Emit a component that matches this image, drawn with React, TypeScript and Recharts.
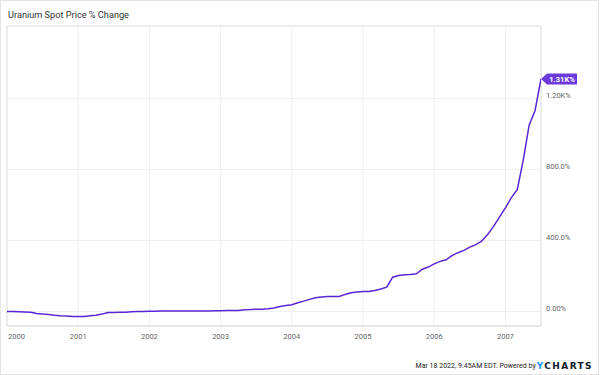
import React from 'react';
import { LineChart, Line, XAxis, YAxis, CartesianGrid, ReferenceArea } from 'recharts';

// monthly % change of the uranium spot price, Jan 2000 .. Jun 2007
const startYear = 2000;
const pctChange = [
  0, -1, -2, -3, -4, -11, -15, -17, -21, -24, -26, -28,
  -28, -28, -24, -21, -15, -6, -6, -4, -4, -2, 0, 0,
  1, 1, 2, 2, 2, 2, 2, 2, 3, 3, 3, 4,
  4, 6, 6, 6, 10, 11, 13, 13, 15, 19, 28, 34,
  38, 49, 58, 68, 77, 81, 84, 84, 84, 96, 105, 109,
  113, 113, 118, 126, 137, 193, 203, 207, 208, 212, 238, 250,
  268, 282, 291, 315, 331, 344, 362, 376, 396, 433, 479, 531,
  583, 641, 686, 851, 1049, 1132, 1310,
];
const yearTicks = [2000, 2001, 2002, 2003, 2004, 2005, 2006, 2007];
const pctTicks = [0, 400, 800, 1200];

const data = pctChange.map((v, i) => ({ t: startYear + i / 12, v }));

const LINE = '#5b25d6';
const FONT = 'Roboto, "Noto Sans", sans-serif';

const fmtPct = (v: number) => {
  if (v === 0) return '0.00%';
  if (Math.abs(v) >= 1000) return (v / 1000).toFixed(2) + 'K%';
  return v.toFixed(1) + '%';
};

const XTick = (props: any) => {
  const { x, payload } = props;
  const first = payload.value === yearTicks[0];
  return (
    <text x={first ? x + 1 : x} y={339} textAnchor={first ? 'start' : 'middle'}
      fontSize={7.5} fill="#666" fontFamily={FONT}>
      {payload.value}
    </text>
  );
};

const YTick = (props: any) => {
  const { y, payload } = props;
  return (
    <text x={546} y={y} textAnchor="start" fontSize={7.5} fill="#666" fontFamily={FONT}>
      {fmtPct(payload.value)}
    </text>
  );
};

const EndLabel = (props: any) => {
  const { x, y, index, value } = props;
  if (index !== pctChange.length - 1) return null;
  return (
    <g>
      <polygon
        points={`${x},${y} ${x + 6},${y - 5.5} ${x + 36},${y - 5.5} ${x + 36},${y + 5.5} ${x + 6},${y + 5.5}`}
        fill="#6c3bdc"
      />
      <text x={x + 21} y={y + 2.7} textAnchor="middle" fontSize={7.5} fontWeight="bold"
        fill="#fff" fontFamily={FONT}>
        {fmtPct(value)}
      </text>
    </g>
  );
};

const App: React.FC = () => {
  return (
    <div style={{ position: 'absolute', left: 0, top: 0, width: 600, height: 375, background: '#fff', fontFamily: FONT }}>
      <div style={{ position: 'absolute', left: 0, top: 0, width: 597, height: 373, border: '1px solid #e4e4e4' }} />
      <div style={{ position: 'absolute', left: 8, top: 9, fontSize: 9.2, color: '#333', lineHeight: '12px' }}>
        Uranium Spot Price % Change
      </div>
      <LineChart width={600} height={375} data={data} margin={{ top: 26, right: 0, bottom: 0, left: 7 }}>
        <CartesianGrid stroke="#efefef" horizontal vertical />
        <ReferenceArea x1={2000} x2={2007.5} y1={-82} y2={1608} fill="none" stroke="#e2e2e2" ifOverflow="visible" />
        <XAxis dataKey="t" type="number" domain={[2000, 2007.5]} ticks={yearTicks} height={49}
          tickLine={false} axisLine={{ stroke: '#e2e2e2' }} tick={<XTick />} interval={0} allowDataOverflow />
        <YAxis orientation="right" type="number" domain={[-82, 1608]} ticks={pctTicks} width={59}
          tickLine={false} axisLine={false} tick={<YTick />} interval={0} allowDataOverflow />
        <Line dataKey="v" type="linear" stroke={LINE} strokeWidth={1.5} dot={false}
          isAnimationActive={false} label={<EndLabel />} />
      </LineChart>
      <div style={{ position: 'absolute', right: 7, top: 360, height: 12, display: 'flex', alignItems: 'center', whiteSpace: 'nowrap' }}>
        <span style={{ fontSize: 7, color: '#222', marginRight: 1 }}>Mar 18 2022, 9:45AM EDT. Powered by</span>
        <span style={{ fontSize: 9, fontWeight: 'bold', letterSpacing: 1.4, fontFamily: '"DejaVu Sans", sans-serif' }}>
          <span style={{ color: '#1e90ff' }}>Y</span><span style={{ color: '#0d1b2a' }}>CHARTS</span>
        </span>
      </div>
    </div>
  );
};

export default App;
